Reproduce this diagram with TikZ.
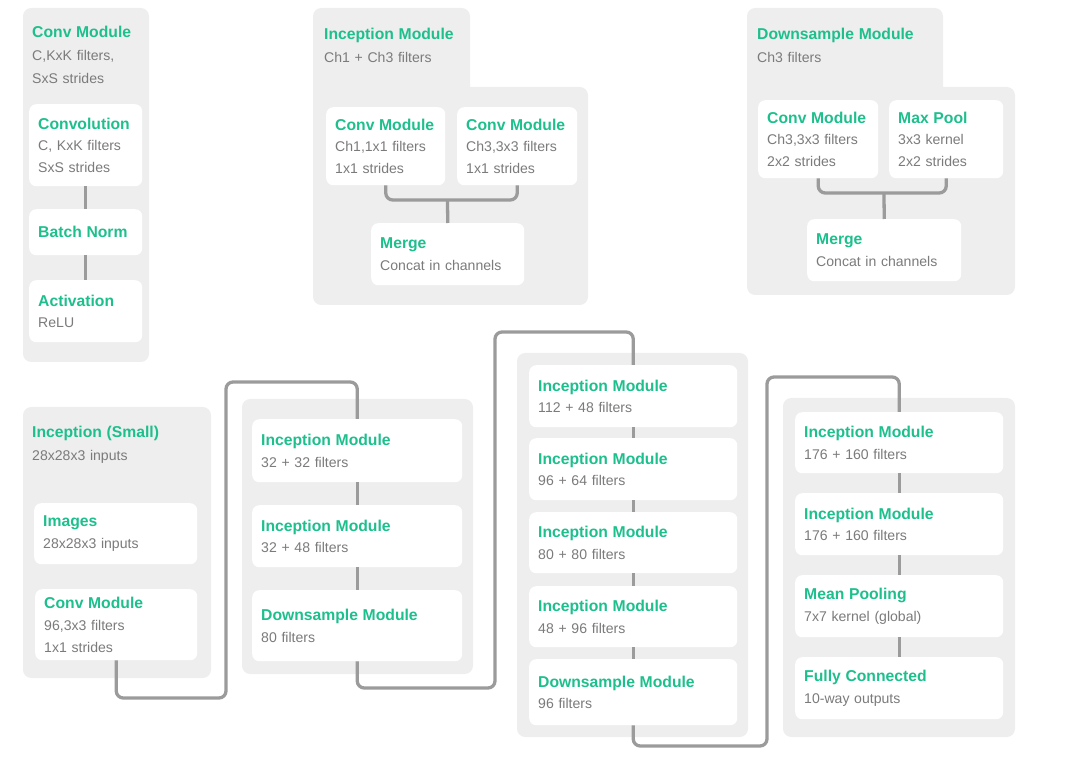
\documentclass[tikz,border=0pt]{standalone}
\usepackage{fontspec}
\setmainfont{Liberation Sans}
\definecolor{modgreen}{HTML}{1DBF8D}
\definecolor{subgray}{HTML}{7B7B7B}
\definecolor{panelgray}{HTML}{EEEEEE}
\definecolor{wiregray}{HTML}{9B9B9B}
\newcommand{\subfont}{\fontsize{12}{18.5}\selectfont}
\newcommand{\modtitle}[1]{{\color{modgreen}\bfseries\fontsize{13.4}{18.5}\selectfont #1}}
\tikzset{
  panel/.style={fill=panelgray, rounded corners=7pt},
  box/.style={fill=white, rounded corners=6pt, anchor=north west, align=left,
    inner xsep=0.27cm, inner ysep=0pt, text=subgray, font=\subfont},
  blk/.code 2 args={%
    \pgfmathsetlengthmacro\blkw{#1*0.03cm-0.54cm}%
    \pgfmathsetlengthmacro\blkh{#2*0.03cm}%
    \tikzset{box, text width=\blkw, minimum height=\blkh}},
  hdr/.style={anchor=north west, inner sep=0pt, align=left, text width=5cm,
    text=subgray, font=\fontsize{12}{19.5}\selectfont},
  wire/.style={draw=wiregray, line width=2.8pt, rounded corners=6pt},
}
\begin{document}
\begin{tikzpicture}[x=0.03cm, y=-0.03cm]
  \useasboundingbox (0,0) rectangle (1079,763);

  % conv module
  \fill[panel] (23,8) rectangle (149,362);
  \node[hdr] (convhdr) at (32,26) {\modtitle{Conv Module}\\C,KxK filters,\\SxS strides};
  \node[blk={113}{82}] (conv) at (29,104) {\modtitle{Convolution}\\C, KxK filters\\SxS strides};
  \node[blk={113}{46}] (bnorm) at (29,209) {\modtitle{Batch Norm}};
  \node[blk={113}{62}] (actv) at (29,280) {\modtitle{Activation}\\ReLU};
  \draw[wire] (conv.south) -- (bnorm.north);
  \draw[wire] (bnorm.south) -- (actv.north);

  % inception module
  \fill[panel] (313,8) rectangle (470,200);
  \fill[panel] (313,87) rectangle (588,305);
  \node[hdr] (inchdr) at (324,28) {\modtitle{Inception Module}\\Ch1 + Ch3 filters};
  \node[blk={119}{78}] (icva) at (326,107) {\modtitle{Conv Module}\\Ch1,1x1 filters\\1x1 strides};
  \node[blk={120}{78}] (icvb) at (457,107) {\modtitle{Conv Module}\\Ch3,3x3 filters\\1x1 strides};
  \node[blk={153}{62}] (imrg) at (371,223) {\modtitle{Merge}\\Concat in channels};
  \coordinate (ijoin) at (447.5,200);
  \draw[wire] (icva.south) |- (ijoin) -| (icvb.south);
  \draw[wire] (ijoin) -- (imrg.north);

  % downsample module
  \fill[panel] (747,8) rectangle (943,200);
  \fill[panel] (747,87) rectangle (1015,295);
  \node[hdr] (dshdr) at (757,28) {\modtitle{Downsample Module}\\Ch3 filters};
  \node[blk={120}{78}] (dcv) at (758,100) {\modtitle{Conv Module}\\Ch3,3x3 filters\\2x2 strides};
  \node[blk={114}{78}] (dpool) at (889,100) {\modtitle{Max Pool}\\3x3 kernel\\2x2 strides};
  \node[blk={154}{62}] (dmrg) at (807,219) {\modtitle{Merge}\\Concat in channels};
  \coordinate (djoin) at (884,193);
  \draw[wire] (dcv.south) |- (djoin) -| (dpool.south);
  \draw[wire] (djoin) -- (dmrg.north);

  % inception (small)
  \fill[panel] (23,407) rectangle (211,678);
  \fill[panel] (242,399) rectangle (473,674);
  \fill[panel] (517,353) rectangle (748,737);
  \fill[panel] (783,398) rectangle (1015,737);
  \node[hdr] (smhdr) at (32,426) {\modtitle{Inception (Small)}\\28x28x3 inputs};

  \coordinate (ra) at (226,698);
  \coordinate (rb) at (226,382);
  \coordinate (rc) at (495,688);
  \coordinate (rd) at (495,332);
  \coordinate (re) at (767,746);
  \coordinate (rf) at (767,377);

  \node[blk={163}{61}] (img) at (34,503) {\modtitle{Images}\\28x28x3 inputs};
  \node[blk={162}{71}] (scv) at (35,589) {\modtitle{Conv Module}\\96,3x3 filters\\1x1 strides};

  \node[blk={210}{63}] (ia) at (252,419) {\modtitle{Inception Module}\\32 + 32 filters};
  \node[blk={210}{62}] (ib) at (252,505) {\modtitle{Inception Module}\\32 + 48 filters};
  \node[blk={210}{71}] (ic) at (252,590) {\modtitle{Downsample Module}\\80 filters};

  \node[blk={208}{62}] (ja) at (529,365) {\modtitle{Inception Module}\\112 + 48 filters};
  \node[blk={208}{62}] (jb) at (529,438) {\modtitle{Inception Module}\\96 + 64 filters};
  \node[blk={208}{61}] (jc) at (529,512) {\modtitle{Inception Module}\\80 + 80 filters};
  \node[blk={208}{61}] (jd) at (529,586) {\modtitle{Inception Module}\\48 + 96 filters};
  \node[blk={208}{66}] (je) at (529,659) {\modtitle{Downsample Module}\\96 filters};

  \node[blk={208}{61}] (ka) at (795,412) {\modtitle{Inception Module}\\176 + 160 filters};
  \node[blk={208}{62}] (kb) at (795,493) {\modtitle{Inception Module}\\176 + 160 filters};
  \node[blk={208}{62}] (kc) at (795,575) {\modtitle{Mean Pooling}\\7x7 kernel (global)};
  \node[blk={208}{62}] (kd) at (795,657) {\modtitle{Fully Connected}\\10-way outputs};

  \draw[wire] (scv.south) |- (ra) -- (rb) -| (ia.north);
  \draw[wire] (ia.south) -- (ib.north);
  \draw[wire] (ib.south) -- (ic.north);
  \draw[wire] (ic.south) |- (rc) -- (rd) -| (ja.north);
  \draw[wire] (ja.south) -- (jb.north);
  \draw[wire] (jb.south) -- (jc.north);
  \draw[wire] (jc.south) -- (jd.north);
  \draw[wire] (jd.south) -- (je.north);
  \draw[wire] (je.south) |- (re) -- (rf) -| (ka.north);
  \draw[wire] (ka.south) -- (kb.north);
  \draw[wire] (kb.south) -- (kc.north);
  \draw[wire] (kc.south) -- (kd.north);
\end{tikzpicture}
\end{document}
